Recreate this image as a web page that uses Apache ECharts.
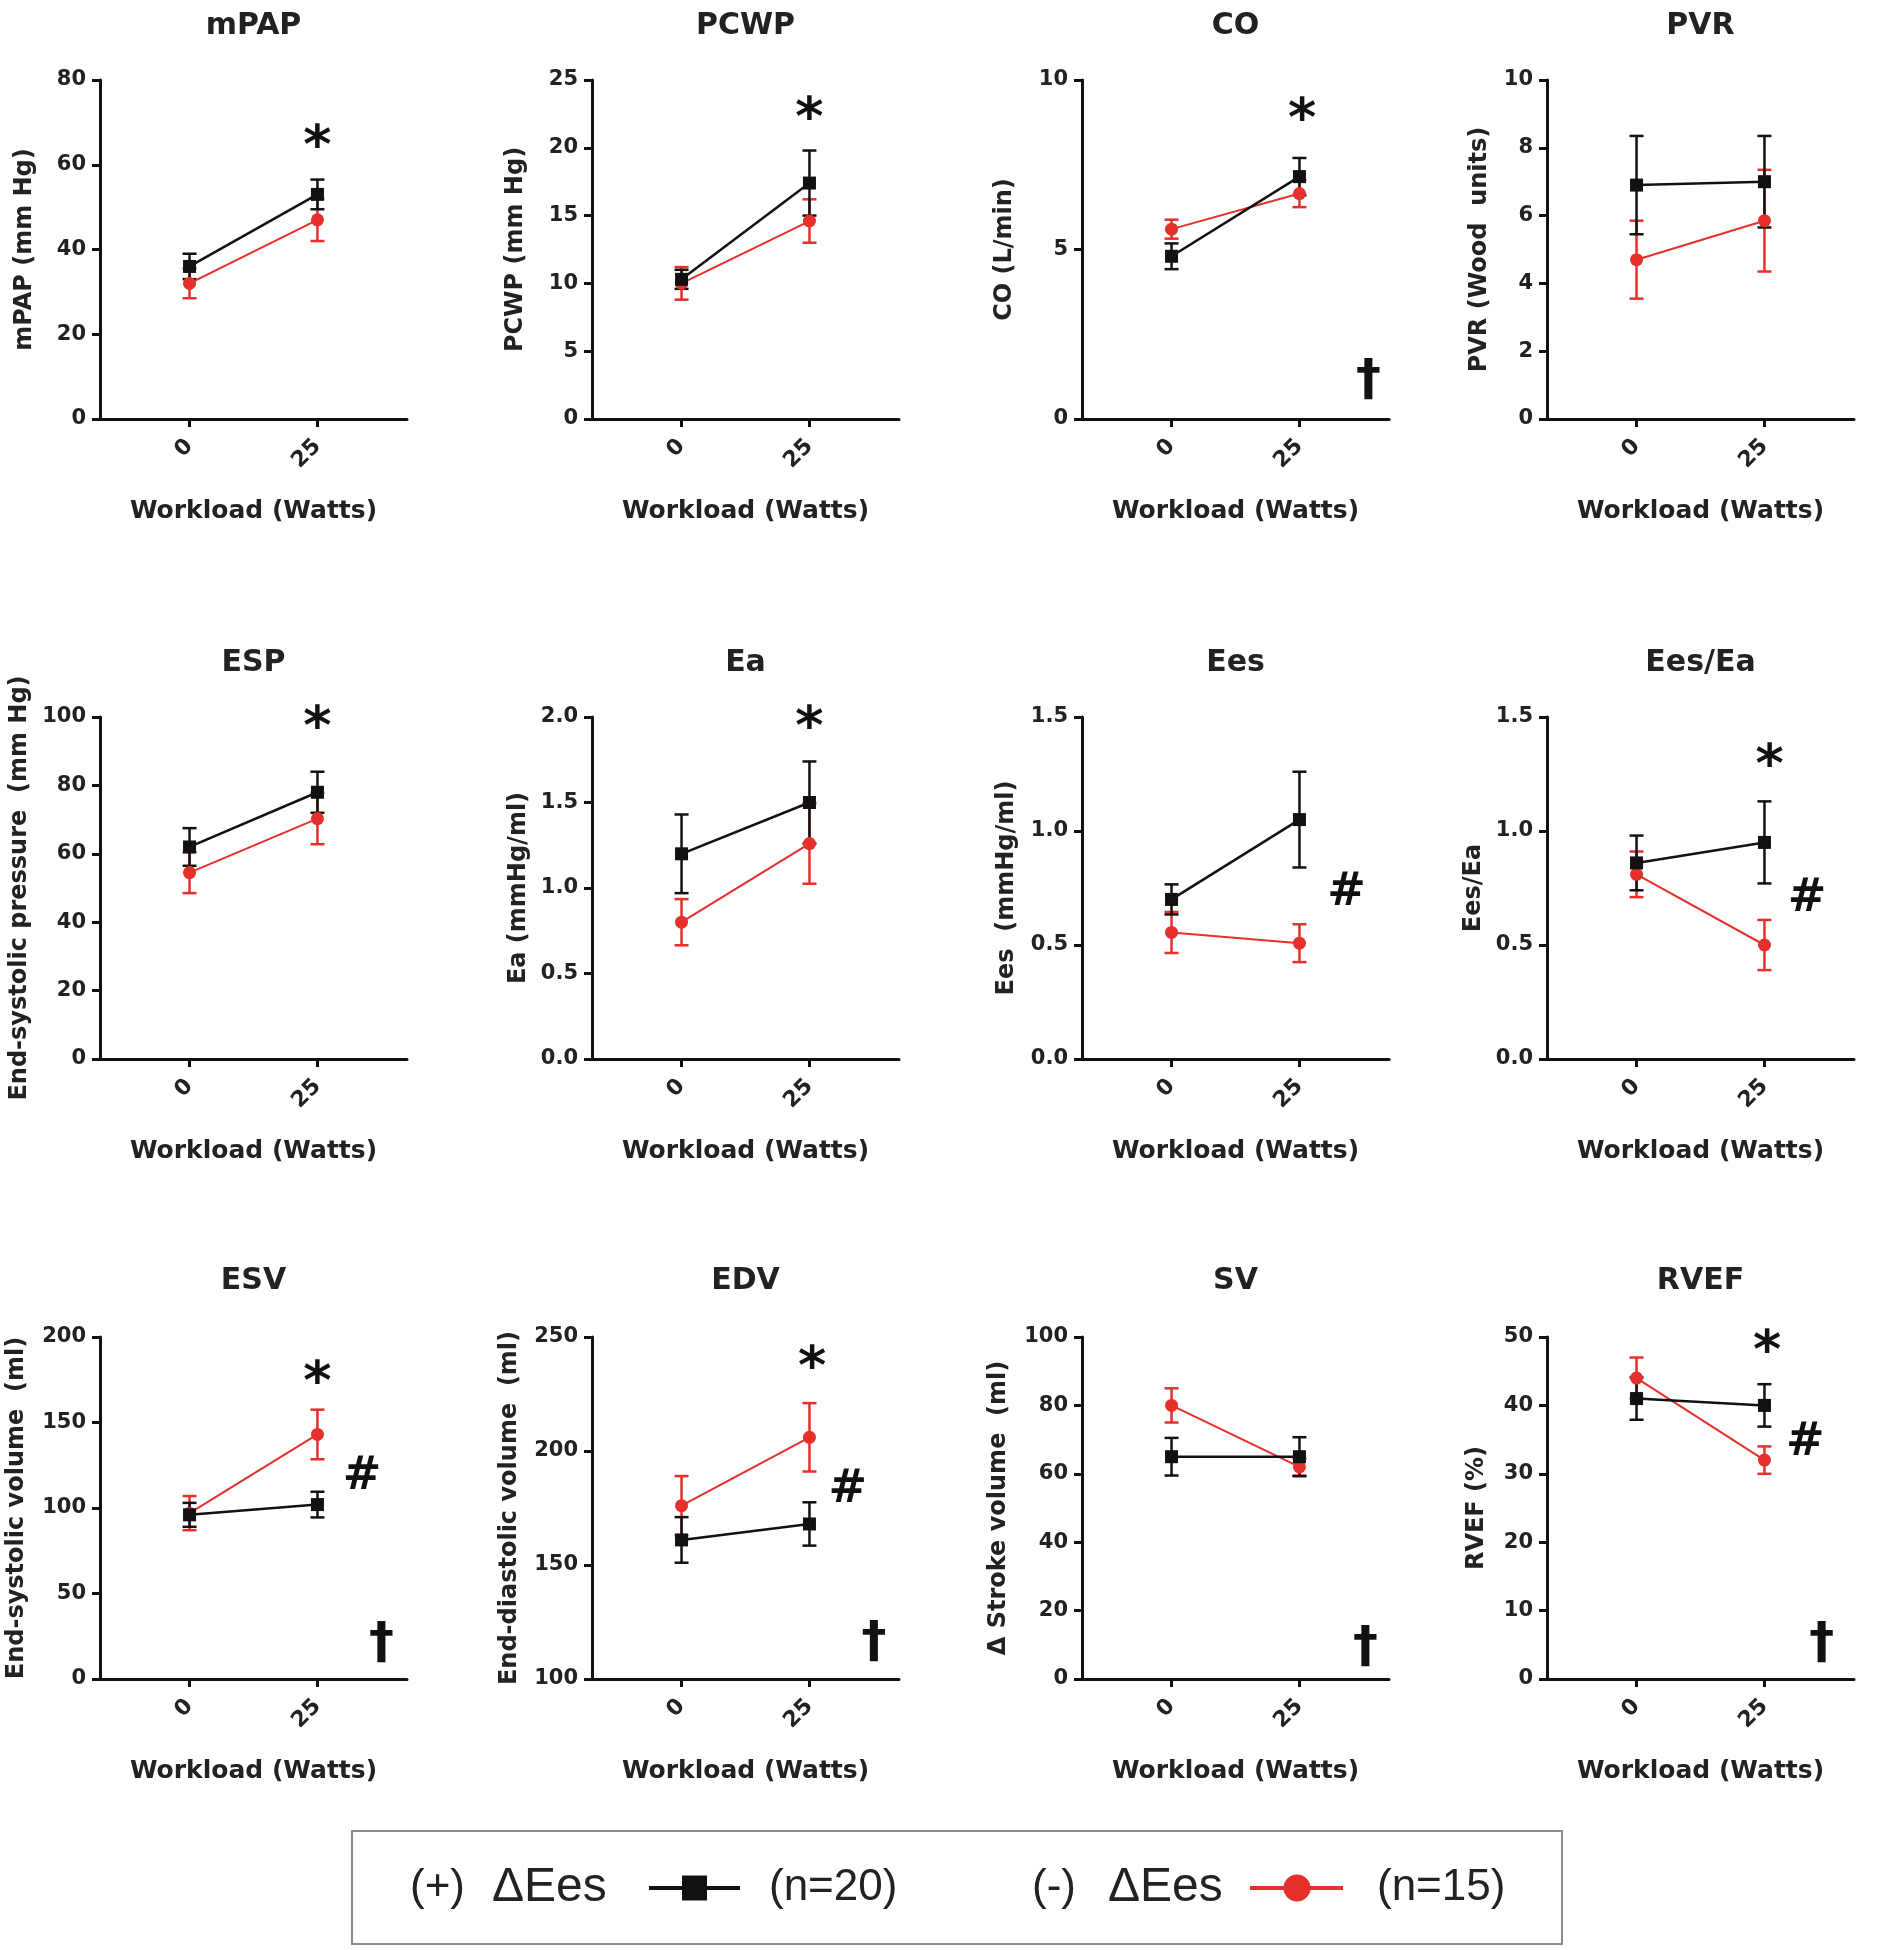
<!DOCTYPE html>
<html><head><meta charset="utf-8">
<script src="https://cdn.jsdelivr.net/npm/echarts@6/dist/echarts.min.js"></script>
<style>html,body{margin:0;padding:0;background:#fff}#c{width:1884px;height:1950px}</style>
</head><body><div id="c"></div>
<script>
// ---------------- data ----------------
const workloads = [0, 25];
const panelTitles = ['mPAP','PCWP','CO','PVR','ESP','Ea','Ees','Ees/Ea','ESV','EDV','SV','RVEF'];
const yAxisNames = ['mPAP (mm Hg)','PCWP (mm Hg)','CO (L/min)','PVR (Wood  units)',
  'End-systolic pressure  (mm Hg)','Ea (mmHg/ml)','Ees  (mmHg/ml)','Ees/Ea',
  'End-systolic volume  (ml)','End-diastolic volume  (ml)','Δ Stroke volume  (ml)','RVEF (%)'];
const yMin = [0,0,0,0, 0,0,0,0, 0,100,0,0];
const yMax = [80,25,10,10, 100,2,1.5,1.5, 200,250,100,50];
const yStep = [20,5,5,2, 20,0.5,0.5,0.5, 50,50,20,10];
const yDecimals = [0,0,0,0, 0,1,1,1, 0,0,0,0];
// (+) ΔEes group (black), mean and SEM at 0 and 25 W
const posMean = [[36,53],[10.3,17.4],[4.8,7.15],[6.9,7.0],[62,78],[1.2,1.5],[0.70,1.05],[0.86,0.95],[96,102],[161,168],[65,65],[41,40]];
const posSem  = [[3,3.5],[0.7,2.4],[0.38,0.55],[1.45,1.35],[5.5,6],[0.23,0.24],[0.066,0.21],[0.12,0.18],[7,7.5],[10,9.5],[5.5,5.7],[3.1,3.1]];
// (-) ΔEes group (red)
const negMean = [[32,47],[10.0,14.6],[5.6,6.65],[4.7,5.85],[54.5,70.3],[0.80,1.26],[0.555,0.508],[0.81,0.50],[97,143],[176,206],[80,62],[44,32]];
const negSem  = [[3.5,5],[1.2,1.6],[0.28,0.4],[1.15,1.5],[6,7.5],[0.135,0.235],[0.09,0.083],[0.1,0.11],[10,14.5],[13,15],[5,2.5],[3,2]];
// significance marks: [panel, x (W), y (axis units), mark]
const marks = [
  [0,25,66,'*'],[1,25,22.7,'*'],[2,25.5,9.05,'*'],[2,38.5,1.0,'†'],
  [4,25,99,'*'],[5,25,1.98,'*'],[6,34.2,0.73,'#'],[7,26,1.32,'*'],[7,33.3,0.70,'#'],
  [8,25,178,'*'],[8,33.7,118,'#'],[8,37.5,18,'†'],
  [9,25.5,240,'*'],[9,32.5,183,'#'],[9,37.6,114,'†'],
  [10,37.9,8,'†'],
  [11,25.5,49,'*'],[11,33,34.5,'#'],[11,36.2,4.6,'†']
];
const xTickLabels = ['0','25'];

// ---------------- layout ----------------
const colLeft = [100, 592, 1082, 1547];
const rowTop = [80, 717, 1337];
const rowH = [339, 342, 342];
const plotW = 307;
const nameGapY = [[63,64,65,55],[68,61,63,61],[71,70,71,58]];
const titleY = [26, 663, 1281];
const FONT = '"DejaVu Sans", sans-serif';
const BLACK = '#111';
const RED = '#e5302b';
const markSize = {'*': 54, '#': 46, '†': 50};
const markOffset = {'*': 10, '#': 0, '†': -4};

function errRender(color){
  return function(params, api){
    const x = api.value(0), lo = api.value(1), hi = api.value(2);
    const p1 = api.coord([x, lo]), p2 = api.coord([x, hi]);
    const hw = 7;
    const style = {stroke: color, lineWidth: 2.5};
    return {type:'group', children:[
      {type:'line', shape:{x1:p1[0],y1:p1[1],x2:p2[0],y2:p2[1]}, style},
      {type:'line', shape:{x1:p1[0]-hw,y1:p1[1],x2:p1[0]+hw,y2:p1[1]}, style},
      {type:'line', shape:{x1:p2[0]-hw,y1:p2[1],x2:p2[0]+hw,y2:p2[1]}, style}
    ]};
  };
}

const grids = [], xAxes = [], yAxes = [], series = [], graphics = [];
for (let i = 0; i < 12; i++) {
  const r = Math.floor(i / 4), c = i % 4;
  grids.push({left: colLeft[c], top: rowTop[r], width: plotW, height: rowH[r], outerBoundsMode: 'none', containLabel: false});
  xAxes.push({
    gridIndex: i, type: 'value', min: -17.5, max: 42.5,
    name: 'Workload (Watts)', nameLocation: 'middle', nameGap: 80,
    nameTextStyle: {fontFamily: FONT, fontWeight: 'bold', fontSize: 25, color: '#222'},
    axisLine: {show: true, lineStyle: {color: BLACK, width: 3}},
    axisTick: {show: true, length: 8, lineStyle: {color: BLACK, width: 3}, customValues: workloads},
    axisLabel: {show: true, rotate: 45, margin: 24, fontFamily: FONT, fontWeight: 'bold', fontSize: 22, color: '#222',
      customValues: workloads, formatter: v => xTickLabels[workloads.indexOf(v)]},
    splitLine: {show: false}
  });
  yAxes.push({
    gridIndex: i, type: 'value', min: yMin[i], max: yMax[i], interval: yStep[i],
    name: yAxisNames[i], nameLocation: 'middle', nameGap: nameGapY[r][c],
    nameTextStyle: {fontFamily: FONT, fontWeight: 'bold', fontSize: 24, color: '#222'},
    axisLine: {show: true, onZero: false, lineStyle: {color: BLACK, width: 3}},
    axisTick: {show: true, length: 8, lineStyle: {color: BLACK, width: 3}},
    axisLabel: {margin: 14, fontFamily: FONT, fontWeight: 'bold', fontSize: 21, color: '#222',
      formatter: (v => v.toFixed(yDecimals[i]))},
    splitLine: {show: false}
  });
  graphics.push({type: 'text', x: colLeft[c] + plotW / 2, y: titleY[r],
    style: {text: panelTitles[i], font: 'bold 30px ' + FONT, fill: '#222', align: 'center', verticalAlign: 'middle'}});

  series.push({type: 'custom', xAxisIndex: i, yAxisIndex: i, renderItem: errRender(RED), silent: true,
    data: workloads.map((w, j) => [w, negMean[i][j] - negSem[i][j], negMean[i][j] + negSem[i][j]])});
  series.push({type: 'line', xAxisIndex: i, yAxisIndex: i, symbol: 'circle', symbolSize: 13, silent: true,
    lineStyle: {color: RED, width: 2}, itemStyle: {color: RED},
    data: workloads.map((w, j) => [w, negMean[i][j]])});
  series.push({type: 'custom', xAxisIndex: i, yAxisIndex: i, renderItem: errRender(BLACK), silent: true,
    data: workloads.map((w, j) => [w, posMean[i][j] - posSem[i][j], posMean[i][j] + posSem[i][j]])});
  series.push({type: 'line', xAxisIndex: i, yAxisIndex: i, symbol: 'rect', symbolSize: 13, silent: true,
    lineStyle: {color: BLACK, width: 2.5}, itemStyle: {color: BLACK},
    data: workloads.map((w, j) => [w, posMean[i][j]])});
}

// legend box
const LF = '44px "Liberation Sans", Arial, sans-serif';
const LF2 = '48px "Liberation Sans", Arial, sans-serif';
const LY = 1888;
graphics.push({type: 'rect', shape: {x: 352, y: 1831, width: 1210, height: 113},
  style: {fill: 'none', stroke: '#8a8a8a', lineWidth: 2}});
[['(+)',410,LF],['ΔEes',492,LF2],['(n=20)',769,LF],['(-)',1032,LF],['ΔEes',1108,LF2],['(n=15)',1377,LF]].forEach(t => {
  graphics.push({type: 'text', x: t[1], y: LY, style: {text: t[0], font: t[2], fill: '#222', align: 'left', verticalAlign: 'middle'}});
});
graphics.push({type: 'line', shape: {x1: 649, y1: LY, x2: 740, y2: LY}, style: {stroke: BLACK, lineWidth: 4}});
graphics.push({type: 'rect', shape: {x: 682, y: LY - 12.5, width: 25, height: 25}, style: {fill: BLACK}});
graphics.push({type: 'line', shape: {x1: 1250, y1: LY, x2: 1343, y2: LY}, style: {stroke: RED, lineWidth: 4}});
graphics.push({type: 'circle', shape: {cx: 1297, cy: LY, r: 13.5}, style: {fill: RED}});

const chart = echarts.init(document.getElementById('c'), null, {renderer: 'canvas'});
chart.setOption({
  animation: false,
  backgroundColor: '#fff',
  grid: grids, xAxis: xAxes, yAxis: yAxes, series: series,
  graphic: graphics
});
// significance marks placed through each panel's own axis scales
const markGraphics = marks.map(m => {
  const p = chart.convertToPixel({gridIndex: m[0]}, [m[1], m[2]]);
  return {type: 'text', x: p[0], y: p[1] + markOffset[m[3]], silent: true,
    style: {text: m[3], font: 'bold ' + markSize[m[3]] + 'px ' + FONT, fill: '#111', align: 'center', verticalAlign: 'middle'}};
});
chart.setOption({graphic: graphics.concat(markGraphics)});
</script></body></html>
